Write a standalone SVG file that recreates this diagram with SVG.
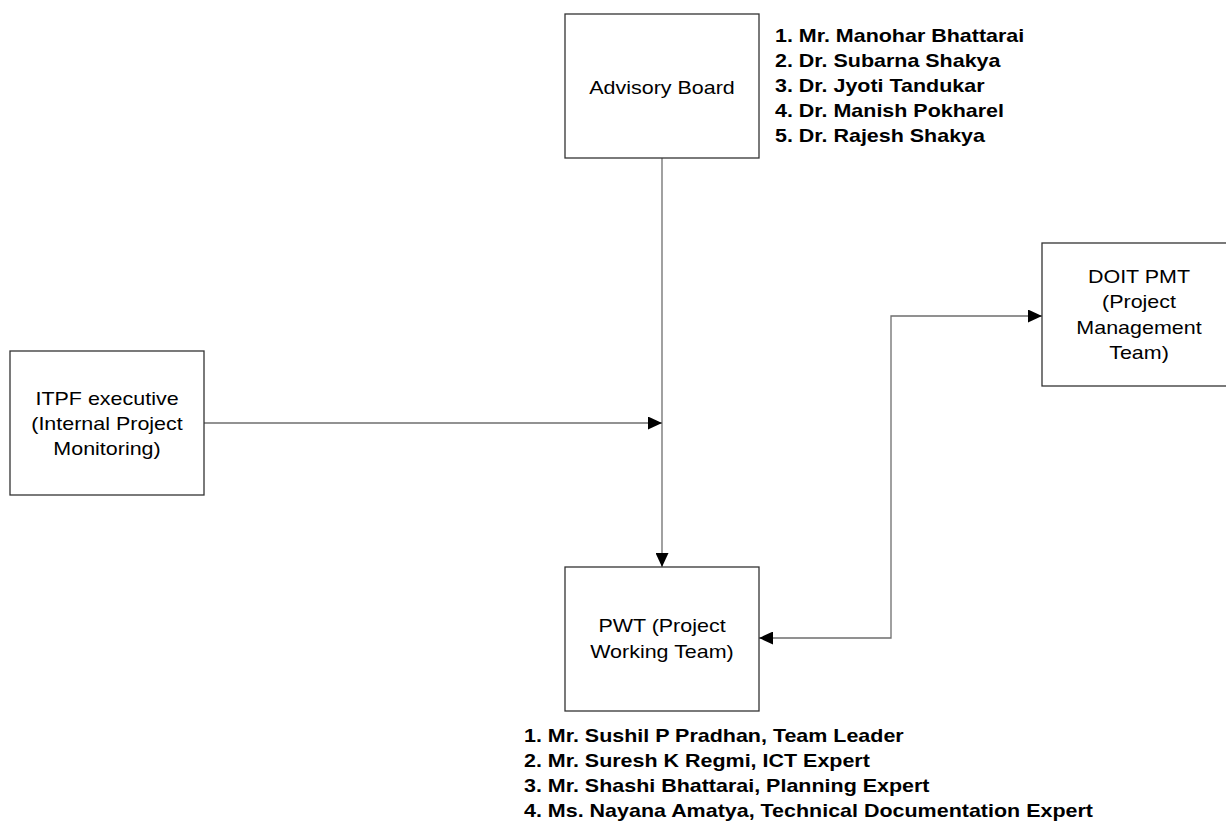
<svg xmlns="http://www.w3.org/2000/svg" width="1226" height="823" viewBox="0 0 1226 823">
  <style>
    .box { fill: #ffffff; stroke: #333333; stroke-width: 1.3; }
    .link { fill: none; stroke: #6e6e6e; stroke-width: 1.3; }
    .lbl { font-family: "Liberation Sans", Arial, sans-serif; font-size: 19px; fill: #000000; text-anchor: middle; }
    .lst { font-family: "Liberation Sans", Arial, sans-serif; font-size: 19px; font-weight: bold; fill: #000000; }
  </style>
  <defs>
    <marker id="arrow" markerUnits="userSpaceOnUse" markerWidth="14" markerHeight="13" refX="14" refY="6.5" orient="auto-start-reverse">
      <path d="M0,0 L14,6.5 L0,13 Z" fill="#000000"/>
    </marker>
  </defs>
  <rect width="1226" height="823" fill="#ffffff"/>

  <!-- connectors -->
  <g id="connectors">
    <path class="link" d="M662,158 V567" marker-end="url(#arrow)"/>
    <path class="link" d="M204,423 H662" marker-end="url(#arrow)"/>
    <path class="link" d="M759,638 H891 V316 H1042" marker-start="url(#arrow)" marker-end="url(#arrow)"/>
  </g>

  <!-- Advisory Board -->
  <g id="advisory-board">
    <rect class="box" x="565" y="14" width="194" height="144"/>
    <g transform="translate(662,0) scale(1.13,1)">
      <text class="lbl" x="0" y="94">Advisory Board</text>
    </g>
  </g>

  <g id="advisory-members" transform="translate(775,0) scale(1.13,1)">
    <text class="lst" x="0" y="42">1. Mr. Manohar Bhattarai</text>
    <text class="lst" x="0" y="67">2. Dr. Subarna Shakya</text>
    <text class="lst" x="0" y="92">3. Dr. Jyoti Tandukar</text>
    <text class="lst" x="0" y="117">4. Dr. Manish Pokharel</text>
    <text class="lst" x="0" y="142">5. Dr. Rajesh Shakya</text>
  </g>

  <!-- ITPF executive -->
  <g id="itpf-executive">
    <rect class="box" x="10" y="351" width="194" height="144"/>
    <g transform="translate(107,0) scale(1.13,1)">
      <text class="lbl" x="0" y="405">ITPF executive</text>
      <text class="lbl" x="0" y="430">(Internal Project</text>
      <text class="lbl" x="0" y="455">Monitoring)</text>
    </g>
  </g>

  <!-- DOIT PMT -->
  <g id="doit-pmt">
    <rect class="box" x="1042" y="243" width="194" height="143"/>
    <g transform="translate(1139,0) scale(1.13,1)">
      <text class="lbl" x="0" y="283">DOIT PMT</text>
      <text class="lbl" x="0" y="308">(Project</text>
      <text class="lbl" x="0" y="334">Management</text>
      <text class="lbl" x="0" y="359">Team)</text>
    </g>
  </g>

  <!-- PWT -->
  <g id="pwt">
    <rect class="box" x="565" y="567" width="194" height="144"/>
    <g transform="translate(662,0) scale(1.13,1)">
      <text class="lbl" x="0" y="632">PWT (Project</text>
      <text class="lbl" x="0" y="658">Working Team)</text>
    </g>
  </g>

  <g id="pwt-members" transform="translate(524,0) scale(1.13,1)">
    <text class="lst" x="0" y="742">1. Mr. Sushil P Pradhan, Team Leader</text>
    <text class="lst" x="0" y="767">2. Mr. Suresh K Regmi, ICT Expert</text>
    <text class="lst" x="0" y="792">3. Mr. Shashi Bhattarai, Planning Expert</text>
    <text class="lst" x="0" y="817">4. Ms. Nayana Amatya, Technical Documentation Expert</text>
  </g>
</svg>
